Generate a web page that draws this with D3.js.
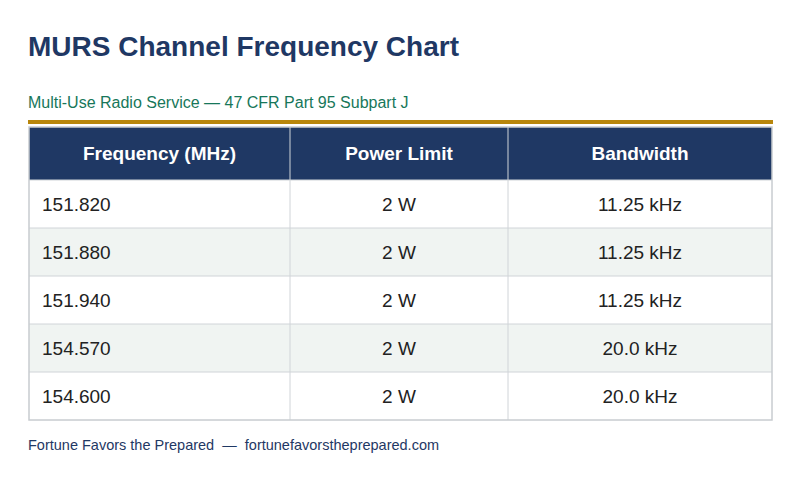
<!DOCTYPE html>
<html><head><meta charset="utf-8">
<script src="https://cdn.jsdelivr.net/npm/d3@7"></script>
<style>body{margin:0;background:#fff;font-family:"Liberation Sans",Arial,sans-serif}</style>
</head><body><svg id="c" width="800" height="488"></svg>
<script>
const headers = ["Frequency (MHz)", "Power Limit", "Bandwidth"];
const frequencies = ["151.820", "151.880", "151.940", "154.570", "154.600"];
const powers = ["2 W", "2 W", "2 W", "2 W", "2 W"];
const bandwidths = ["11.25 kHz", "11.25 kHz", "11.25 kHz", "20.0 kHz", "20.0 kHz"];

const svg = d3.select("#c");
const navy = "#1f3864";
svg.append("text").attr("x",28).attr("y",56).attr("fill",navy).attr("font-size",28).attr("font-weight","bold").text("MURS Channel Frequency Chart");
svg.append("text").attr("x",28).attr("y",108).attr("fill","#17775a").attr("font-size",16).text("Multi-Use Radio Service — 47 CFR Part 95 Subpart J");
svg.append("rect").attr("x",28).attr("y",120).attr("width",745).attr("height",4).attr("fill","#b8860b");

const colEdges = [29, 290, 508, 772];
const rows = frequencies.map((f,i)=>[f, powers[i], bandwidths[i]]);
const y = d3.scaleBand().domain(d3.range(rows.length)).range([180,420]);
const tableTop = 127;

svg.append("rect").attr("x",29).attr("y",tableTop).attr("width",743).attr("height",53).attr("fill",navy);
headers.forEach((h,j)=>{
  svg.append("text").attr("x",(colEdges[j]+colEdges[j+1])/2).attr("y",tableTop+33).attr("text-anchor","middle")
    .attr("fill","#fff").attr("font-size",19).attr("font-weight","bold").text(h);
});
rows.forEach((r,i)=>{
  svg.append("rect").attr("x",29).attr("y",y(i)).attr("width",743).attr("height",y.bandwidth())
    .attr("fill", i%2 ? "#f0f4f2" : "#ffffff");
  svg.append("line").attr("x1",29).attr("x2",772).attr("y1",y(i)).attr("y2",y(i)).attr("stroke","#d0d4d8");
  r.forEach((v,j)=>{
    const cx = j===0 ? colEdges[0]+13 : (colEdges[j]+colEdges[j+1])/2;
    svg.append("text").attr("x",cx).attr("y",y(i)+31).attr("text-anchor", j===0?"start":"middle")
      .attr("fill","#222").attr("font-size",19).text(v);
  });
});
[290,508].forEach(cx=>svg.append("line").attr("x1",cx).attr("x2",cx).attr("y1",tableTop).attr("y2",420).attr("stroke","#d0d4d8"));
svg.append("rect").attr("x",29).attr("y",tableTop).attr("width",743).attr("height",420-tableTop).attr("fill","none").attr("stroke","#c8ccd0").attr("stroke-width",1.5);

svg.append("text").attr("x",28).attr("y",450).attr("fill",navy).attr("font-size",14.5).attr("xml:space","preserve").text("Fortune Favors the Prepared  —  fortunefavorstheprepared.com");
</script></body></html>
